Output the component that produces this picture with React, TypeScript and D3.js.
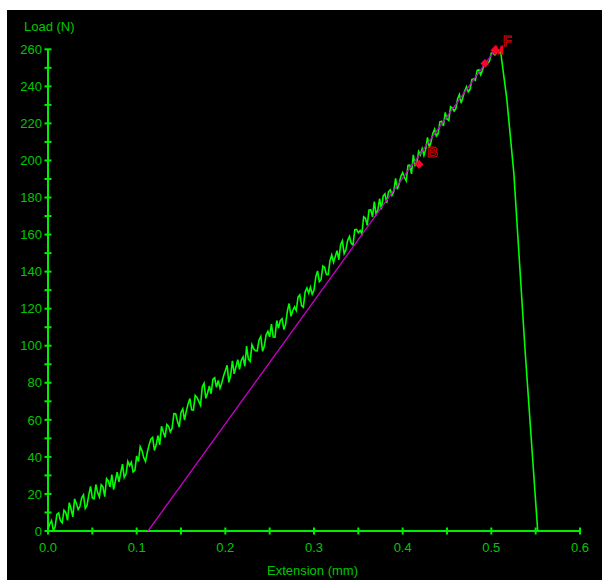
import React from "react";
import * as d3 from "d3";

// ---- data ----
const SAMPLE_STEP = 0.002; // mm between recorded samples on the loading branch
const loadBranch: number[] = [
  1, 3.8, 5.6, 0.4, 2.2, 9, 9.8, 5.6, 4.4, 11.2,
  10, 5.7, 15.3, 12, 7.6, 17.3, 14.9, 11.6, 13.2, 17.9,
  19.5, 12.2, 13.8, 19.5, 24.1, 17.8, 17.4, 25.1, 20.7, 18.4,
  25, 23.8, 18.5, 28.3, 27, 23.8, 30.5, 22.3, 27, 31.8,
  26.5, 31.3, 36.1, 28.9, 30.7, 37.5, 35.3, 37.1, 31.9, 32.7,
  40.5, 37.5, 45.5, 43.5, 39.5, 37.5, 42.5, 46.5, 49.5, 50.5,
  43.5, 46.5, 51.5, 46.5, 56.5, 53.5, 50.5, 57.5, 56.5, 53.5,
  55.5, 63.4, 63.3, 59.2, 56.1, 64, 65.9, 59.8, 64.7, 68.6,
  71.5, 65.4, 65.3, 73.2, 72.1, 70, 67.9, 77.8, 79.7, 71.6,
  74.5, 78.3, 74.1, 81.9, 82.7, 77.5, 81.3, 77.1, 79.9, 83.7,
  86.5, 89.4, 80.2, 84.1, 91.9, 84.8, 88.6, 92.5, 87.3, 92.2,
  94, 88.9, 99.8, 92.7, 91.6, 100.5, 98.4, 97.3, 97.2, 103.1,
  105, 97, 99.9, 105.9, 107.8, 104.8, 111.7, 104.7, 104.6, 113.6,
  109.5, 113.6, 114.6, 108.7, 111.7, 118.8, 122.8, 115.9, 118.9, 121,
  119, 126.2, 127.4, 121.6, 120.8, 129, 131.2, 128.4, 131.6, 127.8,
  130, 137.2, 140.4, 134.6, 135.8, 143, 142.2, 138.4, 138.6, 145.8,
  149, 145.1, 148.2, 151.3, 146.4, 154.5, 156.6, 149.7, 151.8, 156.9,
  159, 155.2, 154.4, 162.6, 162.8, 161, 162.2, 160.4, 169.6, 168.8,
  165, 173.2, 173.4, 169.6, 177.8, 171, 173.2, 179.4, 173.6, 180.8,
  182, 177.1, 183.1, 184.2, 181.2, 183.3, 190.3, 184.4, 187.4, 191.5,
  193.5, 190.8, 189, 197.3, 197.5, 192.8, 203, 197.3, 198.5, 204.8,
  203, 206.4, 202.7, 206.1, 212.4, 206.8, 210.1, 214.5, 216.8, 213.2,
  214.5, 220.9, 221.2, 218.6, 225.9, 222.3, 221.6, 229, 228.3, 226.7,
  228, 233.3, 235.6, 230.9, 234.2, 237.5, 239.8, 237.1, 238.4, 243.7,
  244, 243.3, 248.6, 248.9, 246.2, 248.5, 252.8, 253.1, 252.4, 253.7,
  258, 258, 257, 258.8, 259.5,
];
const dropExtension: number[] = [0.5107, 0.5175, 0.5254, 0.538, 0.5523];
const dropLoad: number[] = [258, 233, 193, 98, 0];

const slopeExtension: number[] = [0.1128, 0.5041];
const slopeLoad: number[] = [0, 259.5];

const markerExtension: number[] = [0.4184, 0.4928, 0.5041];
const markerLoad: number[] = [198, 252.4, 259.5];

const xTicks: number[] = [0, 0.05, 0.1, 0.15, 0.2, 0.25, 0.3, 0.35, 0.4, 0.45, 0.5, 0.55, 0.6];
const xLabels: number[] = [0, 0.1, 0.2, 0.3, 0.4, 0.5, 0.6];
const yTicks: number[] = d3.range(0, 261, 10);
const yLabels: number[] = d3.range(0, 261, 20);

const W = 602;
const H = 580;
const FONT = "'Liberation Sans', Arial, sans-serif";
const AXIS = "#00ee00";
const TEXT = "#00c800";
const CURVE = "#00ff00";
const RED = "#ff0030";

export default function App() {
  const x = d3.scaleLinear().domain([0, 0.6]).range([48, 580]);
  const y = d3.scaleLinear().domain([0, 260]).range([531, 49.3]);

  const pts: [number, number][] = loadBranch.map((v, i) => [i * SAMPLE_STEP, v]);
  dropExtension.forEach((e, i) => pts.push([e, dropLoad[i]]));
  const line = d3
    .line<[number, number]>()
    .x((d) => x(d[0]))
    .y((d) => y(d[1]));
  const slopePts: [number, number][] = slopeExtension.map((e, i) => [e, slopeLoad[i]]);

  const diamond = d3.symbol(d3.symbolSquare, 40)();
  const bx = x(markerExtension[0]);
  const by = y(markerLoad[0]);
  const px = x(markerExtension[2]);
  const py = y(markerLoad[2]);

  return (
    <svg
      width={W}
      height={H}
      style={{ position: "absolute", left: 0, top: 0, display: "block" }}
    >
      <rect x={0} y={0} width={W} height={H} fill="#fff" />
      <rect x={7} y={10} width={W - 7} height={H - 10} fill="#000" />

      {/* axes */}
      <line x1={x(0)} x2={x(0)} y1={y(260)} y2={y(0)} stroke={AXIS} strokeWidth={2} />
      <line x1={x(0)} x2={x(0.6)} y1={y(0)} y2={y(0)} stroke={AXIS} strokeWidth={2} />
      {yTicks.map((t) => (
        <line key={"yt" + t} x1={x(0) - 3.5} x2={x(0) + 3.5} y1={y(t)} y2={y(t)} stroke={AXIS} strokeWidth={2} />
      ))}
      {xTicks.map((t) => (
        <line key={"xt" + t} x1={x(t)} x2={x(t)} y1={y(0) - 3.5} y2={y(0) + 3.5} stroke={AXIS} strokeWidth={2} />
      ))}
      {yLabels.map((t) => (
        <text
          key={"yl" + t}
          x={42}
          y={y(t)}
          dy="0.36em"
          textAnchor="end"
          fill={TEXT}
          fontFamily={FONT}
          fontSize={13}
        >
          {t}
        </text>
      ))}
      {xLabels.map((t) => (
        <text
          key={"xl" + t}
          x={x(t)}
          y={552}
          textAnchor="middle"
          fill={TEXT}
          fontFamily={FONT}
          fontSize={13}
        >
          {t.toFixed(1)}
        </text>
      ))}
      <text x={24} y={31} fill={TEXT} fontFamily={FONT} fontSize={13}>
        Load (N)
      </text>
      <text x={312.5} y={575} textAnchor="middle" fill={TEXT} fontFamily={FONT} fontSize={13}>
        Extension (mm)
      </text>

      {/* data */}
      <path d={line(pts) || ""} fill="none" stroke={CURVE} strokeWidth={1.6} strokeLinejoin="miter" />
      <path d={line(slopePts) || ""} fill="none" stroke="#c800c8" strokeWidth={1.3} />

      {markerExtension.map((e, i) => (
        <path
          key={"m" + i}
          d={diamond || ""}
          transform={`translate(${x(e)},${y(markerLoad[i])}) rotate(45)`}
          fill={RED}
        />
      ))}
      <text
        x={bx + 8}
        y={by - 7}
        fill="none"
        stroke="#e00000"
        strokeWidth={0.9}
        fontFamily={FONT}
        fontWeight="bold"
        fontSize={15}
      >
        B
      </text>
      <text
        x={px - 1}
        y={py + 4}
        fill="none"
        stroke="#ff0020"
        strokeWidth={1}
        fontFamily={FONT}
        fontSize={11}
      >
        M
      </text>
      <text
        x={px + 8}
        y={py - 4}
        fill="none"
        stroke="#e00000"
        strokeWidth={0.9}
        fontFamily={FONT}
        fontWeight="bold"
        fontSize={14}
      >
        F
      </text>
    </svg>
  );
}
